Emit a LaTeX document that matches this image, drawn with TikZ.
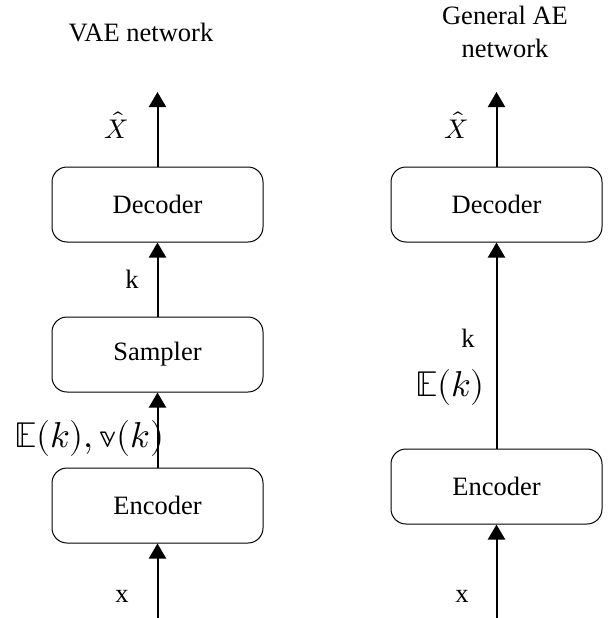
\documentclass[tikz,border=0pt]{standalone}
\usepackage{fontspec}
\usepackage{unicode-math}
\setmainfont{Liberation Serif}
\setmathfont{Latin Modern Math}
\usetikzlibrary{arrows.meta}
\begin{document}
\begin{tikzpicture}[x=1pt,y=-1pt,
  blk/.style={draw,line width=1pt,rounded corners=15pt,minimum width=211pt,minimum height=75pt,inner sep=0pt,font=\fontsize{26.5}{30}\selectfont},
  lbl/.style={inner sep=0pt,font=\fontsize{26.5}{32}\selectfont},
  mlbl/.style={inner sep=0pt,font=\fontsize{36}{40}\selectfont},
  hat/.style={inner sep=0pt,font=\fontsize{27}{30}\selectfont},
  flow/.style={line width=2pt,-{Triangle[width=17pt,length=15pt]}}]
\useasboundingbox (0,0) rectangle (608,618);
% left column
\node[lbl,anchor=base] (t1) at (141,42) {VAE network};
\node[blk] (dec1) at (157.5,204.5) {Decoder};
\node[blk] (sam1) at (157.5,354.5) {Sampler};
\node[blk] (enc1) at (157.5,505.5) {Encoder};
\coordinate (out1) at (157.5,92);
\coordinate (in1) at (157.5,618);
\node[hat] (xh1) at (116,125) {$\hat{X}$};
\node[lbl,anchor=base] (k1) at (132,288) {k};
\node[mlbl] (ev1) at (89.5,438) {$\mathbb{E}(k),\symbb{v}(k)$};
\node[lbl,anchor=base] (x1) at (122,602) {x};
\draw[flow] (dec1.north) -- (out1);
\draw[flow] (sam1.north) -- (dec1.south);
\draw[flow] (enc1.north) -- (sam1.south);
\draw[flow] (in1) -- (enc1.south);
% right column
\node[lbl,anchor=base] (t2a) at (505,25) {General AE};
\node[lbl,anchor=base] (t2b) at (505,57) {network};
\node[blk] (dec2) at (496.5,204.5) {Decoder};
\node[blk] (enc2) at (496.5,486.5) {Encoder};
\coordinate (out2) at (496.5,92);
\coordinate (in2) at (496.5,618);
\node[hat] (xh2) at (456,125) {$\hat{X}$};
\node[lbl,anchor=base] (k2) at (468,347) {k};
\node[mlbl] (e2) at (450,387) {$\mathbb{E}(k)$};
\node[lbl,anchor=base] (x2) at (462,602) {x};
\draw[flow] (dec2.north) -- (out2);
\draw[flow] (enc2.north) -- (dec2.south);
\draw[flow] (in2) -- (enc2.south);
\end{tikzpicture}
\end{document}
